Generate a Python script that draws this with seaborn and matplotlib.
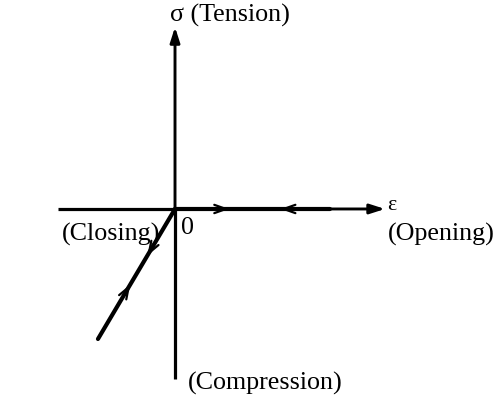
import matplotlib
matplotlib.use("Agg")
import matplotlib.pyplot as plt
import seaborn as sns
import pandas as pd

sns.set_theme(style="white")
plt.rcParams["font.family"] = ["Liberation Serif", "DejaVu Serif"]
plt.rcParams["text.color"] = "black"

# Loading path in strain / stress space (arbitrary units)
opening_eps = [0.0, 1.0]
opening_sig = [0.0, 0.0]
closing_eps = [0.0, -0.497]
closing_sig = [0.0, -0.839]

# Axis extents
eps_axis = [-0.755, 1.355]
sig_axis = [-1.097, 1.174]

axis_labels = {
    "sigma": "σ (Tension)",
    "eps": "ε",
    "pos": "(Opening)",
    "neg": "(Closing)",
    "comp": "(Compression)",
    "origin": "0",
}

paths = pd.concat([
    pd.DataFrame({"eps": opening_eps, "sig": opening_sig, "branch": "opening"}),
    pd.DataFrame({"eps": closing_eps, "sig": closing_sig, "branch": "closing"}),
])

fig = plt.figure(figsize=(5.01, 4.06), dpi=100)
ax = fig.add_axes([0, 0, 1, 1])
ax.set_xlim(-1.129, 2.103)
ax.set_ylim(-1.265, 1.355)
ax.set_axis_off()

# Coordinate axes with arrow tips
axis_arrow = dict(arrowstyle="-|>,head_length=0.75,head_width=0.24",
                  color="black", lw=2.1, shrinkA=0, shrinkB=0)
ax.plot([eps_axis[0], 0], [0, 0], color="black", lw=2.3, solid_capstyle="butt")
ax.annotate("", xy=(eps_axis[1], 0), xytext=(0, 0), arrowprops=axis_arrow)
ax.plot([0, 0], [sig_axis[0], 0], color="black", lw=2.3, solid_capstyle="butt")
ax.annotate("", xy=(0, sig_axis[1]), xytext=(0, 0), arrowprops=axis_arrow)

# Loading branches
sns.lineplot(data=paths, x="eps", y="sig", units="branch", estimator=None,
             sort=False, color="black", lw=3.0, ax=ax, legend=False)


def mid_arrow(x0, y0, x1, y1, frac, direction):
    """Place a small arrowhead along a segment, tip at fraction frac."""
    px = x0 + (x1 - x0) * frac
    py = y0 + (y1 - y0) * frac
    dx = (x1 - x0) * 0.06 * direction
    dy = (y1 - y0) * 0.06 * direction
    ax.annotate("", xy=(px, py), xytext=(px - dx, py - dy),
                arrowprops=dict(arrowstyle="->,head_length=0.7,head_width=0.25",
                                color="black", lw=1.6, shrinkA=0, shrinkB=0))


mid_arrow(opening_eps[0], opening_sig[0], opening_eps[1], opening_sig[1], 0.35, 1)
mid_arrow(opening_eps[0], opening_sig[0], opening_eps[1], opening_sig[1], 0.68, -1)
mid_arrow(closing_eps[0], closing_sig[0], closing_eps[1], closing_sig[1], 0.36, 1)
mid_arrow(closing_eps[0], closing_sig[0], closing_eps[1], closing_sig[1], 0.58, -1)

fs = 18.7
ax.text(-0.03, 1.255, axis_labels["sigma"], fontsize=fs, ha="left", va="center")
ax.text(1.37, 0.03, axis_labels["eps"], fontsize=fs - 3, ha="left", va="center")
ax.text(1.37, -0.155, axis_labels["pos"], fontsize=fs, ha="left", va="center")
ax.text(-0.73, -0.155, axis_labels["neg"], fontsize=fs, ha="left", va="center")
ax.text(0.04, -0.115, axis_labels["origin"], fontsize=fs, ha="left", va="center")
ax.text(0.08, -1.12, axis_labels["comp"], fontsize=fs, ha="left", va="center")

fig.savefig("out.png", dpi=100)
